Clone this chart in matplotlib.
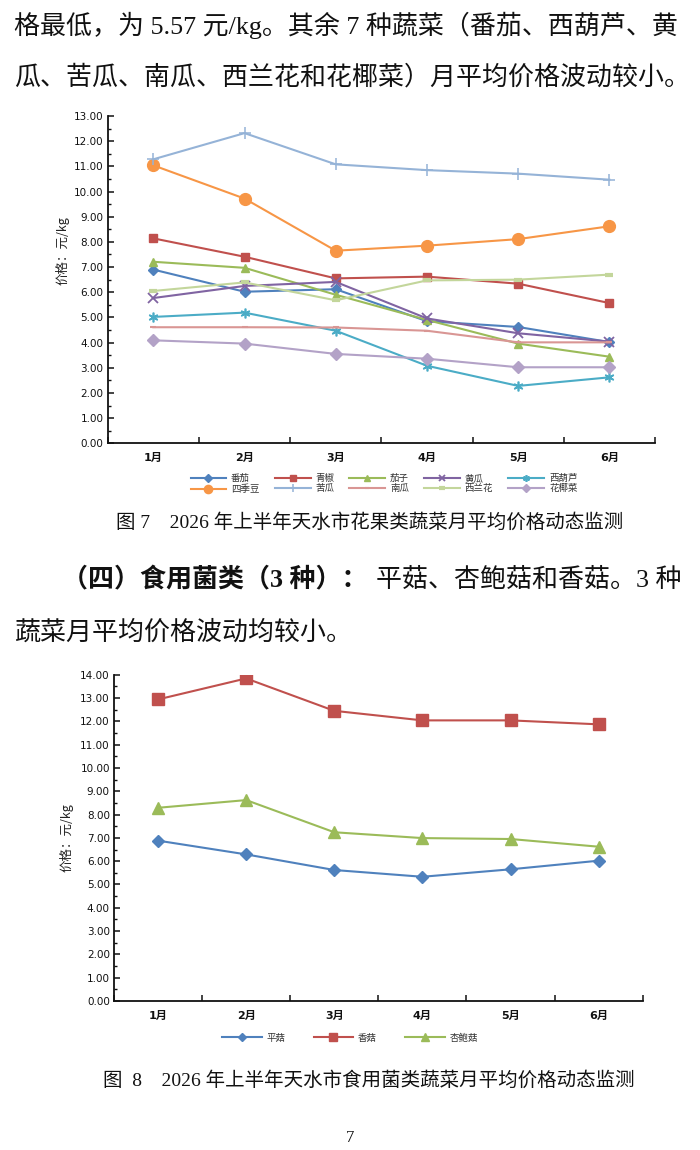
import matplotlib
matplotlib.use("Agg")
import matplotlib.pyplot as plt
from matplotlib.ticker import MultipleLocator, FixedLocator

plt.rcParams['font.family'] = ['DejaVu Sans', 'Noto Sans CJK SC']

months = ['1月', '2月', '3月', '4月', '5月', '6月']

# Figure 7 data (元/kg)
fanqie   = [6.90, 6.02, 6.12, 4.85, 4.62, 4.02]
qingjiao = [8.14, 7.41, 6.55, 6.62, 6.34, 5.57]
qiezi    = [7.21, 6.97, 5.90, 4.90, 3.96, 3.44]
huanggua = [5.77, 6.25, 6.41, 4.96, 4.37, 4.04]
xihulu   = [5.02, 5.19, 4.47, 3.08, 2.28, 2.62]
sijidou  = [11.04, 9.72, 7.65, 7.85, 8.11, 8.62]
kugua    = [11.28, 12.32, 11.08, 10.85, 10.71, 10.47]
nangua   = [4.61, 4.61, 4.60, 4.47, 4.01, 4.01]
xilanhua = [6.05, 6.39, 5.68, 6.47, 6.50, 6.70]
huayecai = [4.09, 3.96, 3.55, 3.36, 3.02, 3.02]
names7 = ['番茄', '青椒', '茄子', '黄瓜', '西葫芦', '四季豆', '苦瓜', '南瓜', '西兰花', '花椰菜']

# Figure 8 data (元/kg)
pinggu   = [6.88, 6.29, 5.62, 5.33, 5.65, 6.02]
xianggu  = [12.94, 13.84, 12.45, 12.04, 12.04, 11.87]
xingbaogu = [8.29, 8.62, 7.24, 6.99, 6.95, 6.62]
names8 = ['平菇', '香菇', '杏鲍菇']

W, H = 700, 1150
fig = plt.figure(figsize=(W / 100, H / 100), dpi=100)
fig.patch.set_facecolor('white')
renderer = fig.canvas.get_renderer()

def fx(px):
    return px / W

def fy(py):
    return 1 - py / H

serif = ['Liberation Serif', 'Noto Sans CJK SC']
body_fs = 18.7
txtc = '#111111'

# ---------------- page text ----------------
fig.text(fx(14), fy(25), '格最低，为 5.57 元/kg。其余 7 种蔬菜（番茄、西葫芦、黄',
         family=serif, fontsize=body_fs, va='center', ha='left', color=txtc)
fig.text(fx(14), fy(77), '瓜、苦瓜、南瓜、西兰花和花椰菜）月平均价格波动较小。',
         family=serif, fontsize=body_fs, va='center', ha='left', color=txtc)

fig.text(fx(370), fy(522), '图 7　2026 年上半年天水市花果类蔬菜月平均价格动态监测',
         family=serif, fontsize=14, va='center', ha='center', color=txtc,
         fontweight='medium')

t_bold = fig.text(fx(62), fy(580), '（四）食用菌类（3 种）：',
                  family=serif, fontsize=body_fs, va='center', ha='left', color=txtc,
                  fontweight='bold')
bb = t_bold.get_window_extent(renderer=renderer)
fig.text((bb.x1 + 8) / W, fy(580), '平菇、杏鲍菇和香菇。3 种',
         family=serif, fontsize=body_fs, va='center', ha='left', color=txtc)
fig.text(fx(14), fy(632), '蔬菜月平均价格波动均较小。',
         family=serif, fontsize=body_fs, va='center', ha='left', color=txtc)

fig.text(fx(369), fy(1080), '图  8　2026 年上半年天水市食用菌类蔬菜月平均价格动态监测',
         family=serif, fontsize=14, va='center', ha='center', color=txtc,
         fontweight='medium')
fig.text(fx(350), fy(1138), '7', family=serif, fontsize=12, va='center', ha='center',
         color=txtc)

# ---------------- chart helpers ----------------
x = list(range(len(months)))

def style_axes(ax, ymax):
    ax.set_xlim(-0.5, len(months) - 0.5)
    ax.set_ylim(0, ymax)
    for s in ['top', 'right']:
        ax.spines[s].set_visible(False)
    for s in ['left', 'bottom']:
        ax.spines[s].set_linewidth(1.3)
        ax.spines[s].set_color('#111111')
    ax.yaxis.set_major_locator(MultipleLocator(1))
    ax.yaxis.set_minor_locator(MultipleLocator(0.5))
    ax.yaxis.set_major_formatter(matplotlib.ticker.FormatStrFormatter('%.2f'))
    ax.tick_params(axis='y', which='major', direction='in', length=4, width=1.1,
                   labelsize=7.5, colors='#111111', pad=3)
    ax.tick_params(axis='y', which='minor', direction='in', length=2.5, width=1.0,
                   colors='#111111')
    bounds = [i - 0.5 for i in range(len(months) + 1)]
    ax.xaxis.set_major_locator(FixedLocator(bounds))
    ax.xaxis.set_major_formatter(matplotlib.ticker.NullFormatter())
    ax.set_xticks(x, months, minor=True)
    ax.tick_params(axis='x', which='major', direction='in', length=4, width=1.1,
                   colors='#111111')
    ax.tick_params(axis='x', which='minor', length=0, labelsize=8, pad=7,
                   colors='#111111')
    for lab in ax.get_xticklabels(minor=True):
        lab.set_fontweight('bold')

# ---------------- Figure 7 ----------------
ax1 = fig.add_axes([fx(107.7), fy(443.3), fx(655) - fx(107.7), fy(116) - fy(443.3)])
style_axes(ax1, 13)

series7 = [fanqie, qingjiao, qiezi, huanggua, xihulu, sijidou, kugua, nangua, xilanhua, huayecai]
colors7 = ['#4F81BD', '#C0504D', '#9BBB59', '#8064A2', '#4BACC6',
           '#F79646', '#95B3D7', '#D99694', '#C3D69B', '#B3A2C7']
markers7 = ['D', 's', '^', 'x', (6, 2, 0), 'o', '+', '_', '_', 'D']
msizes7 = [5.5, 5.5, 6, 7, 7, 8.5, 8, 5, 6, 6]
mews7 = [1, 1, 1, 1.3, 1.2, 1, 1.1, 1.5, 3, 1]
lines7 = []
for vals, c, m, ms, mew, nm in zip(series7, colors7, markers7, msizes7, mews7, names7):
    ln, = ax1.plot(x, vals, color=c, marker=m, markersize=ms, markeredgewidth=mew,
                   markeredgecolor=c, markerfacecolor=c, linewidth=1.5, label=nm)
    lines7.append(ln)
ax1.set_ylabel('价格：元/kg', family=['Noto Sans CJK SC'], fontsize=9, color='#222222')
ax1.yaxis.label.set_position((0, 0.59))
ax1.yaxis.labelpad = 3

order = [0, 5, 1, 6, 2, 7, 3, 8, 4, 9]
leg1 = fig.legend([lines7[i] for i in order], [names7[i] for i in order],
                  loc='center', bbox_to_anchor=(fx(384), fy(484)), ncol=5,
                  frameon=False, prop={'family': 'Noto Sans CJK SC', 'size': 6.8},
                  handlelength=3.8, handletextpad=0.5, columnspacing=1.6,
                  labelspacing=0.12, borderpad=0, markerscale=0.7,
                  handleheight=0.6)
for t in leg1.get_texts():
    t.set_color('#333333')

# ---------------- Figure 8 ----------------
ax2 = fig.add_axes([fx(114), fy(1001), fx(642.7) - fx(114), fy(674.7) - fy(1001)])
style_axes(ax2, 14)
series8 = [pinggu, xianggu, xingbaogu]
colors8 = ['#4F81BD', '#C0504D', '#9BBB59']
markers8 = ['D', 's', '^']
msizes8 = [6, 8, 8]
lines8 = []
for vals, c, m, ms, nm in zip(series8, colors8, markers8, msizes8, names8):
    ln, = ax2.plot(x, vals, color=c, marker=m, markersize=ms, markeredgecolor=c,
                   markerfacecolor=c, linewidth=1.5, label=nm)
    lines8.append(ln)
ax2.set_ylabel('价格：元/kg', family=['Noto Sans CJK SC'], fontsize=9, color='#222222')
ax2.yaxis.label.set_position((0, 0.5))
ax2.yaxis.labelpad = 5

leg2 = fig.legend(lines8, names8, loc='center', bbox_to_anchor=(fx(350), fy(1038)),
                  ncol=3, frameon=False, prop={'family': 'Noto Sans CJK SC', 'size': 6.8},
                  handlelength=4.2, handletextpad=0.5, columnspacing=3.0,
                  borderpad=0, markerscale=0.7)
for t in leg2.get_texts():
    t.set_color('#333333')

fig.savefig('out.png', dpi=100, facecolor='white')
